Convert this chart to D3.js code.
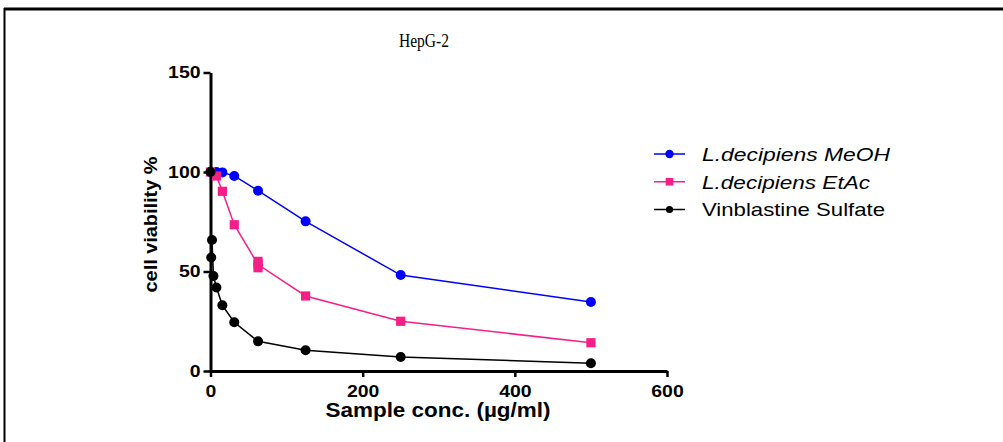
<!DOCTYPE html>
<html>
<head>
<meta charset="utf-8">
<script src="https://cdn.jsdelivr.net/npm/d3@7"></script>
<style>
  html, body { margin: 0; padding: 0; background: #fff; }
  svg { display: block; }
</style>
</head>
<body>
<svg id="chart" width="1003" height="442"></svg>
<script>
// ── data ──
const meohConc = [0, 7.8, 15.6, 31.25, 62.5, 125, 250, 500];
const meohVal  = [100, 100, 99.8, 98, 90.6, 75.2, 48.2, 34.7];

const etacConc = [0, 7.8, 15.6, 31.25, 62.5, 125, 250, 500];
const etacVal  = [100, 98, 90.3, 73.5, 53.5, 37.7, 25, 14.2];
const etacErr  = [0, 0, 0, 0, 1.6, 0, 0, 0];

const vinConc = [0, 0.98, 1.95, 3.9, 7.8, 15.6, 31.25, 62.5, 125, 250, 500];
const vinVal  = [100, 57, 65.8, 47.7, 42, 33, 24.5, 14.9, 10.4, 7, 3.9];

const xTicks = [0, 200, 400, 600];
const yTicks = [0, 50, 100, 150];

const seriesNames = ["L.decipiens MeOH", "L.decipiens EtAc", "Vinblastine Sulfate"];

const BLUE = "#0000ff", PINK = "#f81e87", BLACK = "#000";
const FONT = "'Liberation Sans', Arial, sans-serif";

const svg = d3.select("#chart");

// frame (top + left rule of the original figure box)
svg.append("line").attr("x1", 4).attr("x2", 1003).attr("y1", 9).attr("y2", 9)
    .attr("stroke", "#000").attr("stroke-width", 3);
svg.append("line").attr("x1", 4.5).attr("x2", 4.5).attr("y1", 8).attr("y2", 442)
    .attr("stroke", "#000").attr("stroke-width", 2);

const x = d3.scaleLinear().domain([0, 600]).range([210.5, 667]);
const y = d3.scaleLinear().domain([0, 150]).range([371, 72.5]);

// title
svg.append("text").attr("x", 424).attr("y", 47)
    .attr("text-anchor", "middle")
    .attr("font-family", "'Liberation Serif', 'Times New Roman', serif")
    .attr("font-size", 19.5).attr("textLength", 50).attr("lengthAdjust", "spacingAndGlyphs")
    .text("HepG-2");

// ─── axes ───
const labW = s => s.length * 10.8;

const xAx = svg.append("g").attr("transform", `translate(0,${y(0)})`)
    .call(d3.axisBottom(x).tickValues(xTicks).tickSize(6).tickSizeOuter(0).tickPadding(8));
const yAx = svg.append("g").attr("transform", `translate(${x(0)},0)`)
    .call(d3.axisLeft(y).tickValues(yTicks).tickSize(7).tickSizeOuter(0).tickPadding(3));

[xAx, yAx].forEach(ax => {
    ax.select(".domain").attr("stroke", "#000").attr("stroke-width", 3);
    ax.selectAll(".tick line").attr("stroke", "#000").attr("stroke-width", 2.5);
    ax.selectAll(".tick text")
        .attr("fill", "#000").attr("font-family", FONT)
        .attr("font-size", 16.5).attr("font-weight", "bold")
        .attr("lengthAdjust", "spacingAndGlyphs")
        .attr("textLength", function () { return labW(this.textContent); });
});
xAx.selectAll(".tick text").attr("dy", "0.71em");

// axis titles
svg.append("text").attr("x", 438).attr("y", 417)
    .attr("text-anchor", "middle").attr("font-family", FONT)
    .attr("font-size", 20).attr("font-weight", "bold")
    .attr("textLength", 225).attr("lengthAdjust", "spacingAndGlyphs")
    .text("Sample conc. (\u00b5g/ml)");

svg.append("text")
    .attr("transform", "translate(157,224.5) rotate(-90)")
    .attr("text-anchor", "middle").attr("font-family", FONT)
    .attr("font-size", 18).attr("font-weight", "bold")
    .attr("textLength", 136).attr("lengthAdjust", "spacingAndGlyphs")
    .text("cell viability %");

// ─── series ───
const line = d3.line().x(d => x(d[0])).y(d => y(d[1]));

function drawSeries(conc, vals, color, shape) {
    const pts = conc.map((c, i) => [c, vals[i]]);
    svg.append("path").datum(pts).attr("d", line)
        .attr("fill", "none").attr("stroke", color).attr("stroke-width", 1.5);
    const g = svg.append("g");
    pts.forEach(p => {
        if (shape === "square") {
            g.append("rect").attr("x", x(p[0]) - 4.6).attr("y", y(p[1]) - 4.6)
                .attr("width", 9.2).attr("height", 9.2).attr("fill", color);
        } else {
            g.append("circle").attr("cx", x(p[0])).attr("cy", y(p[1])).attr("r", 5)
                .attr("fill", color);
        }
    });
    return g;
}

drawSeries(meohConc, meohVal, BLUE, "circle");
const etacG = drawSeries(etacConc, etacVal, PINK, "square");
// spread of the replicate at 62.5 µg/ml
etacConc.forEach((c, i) => {
    if (!etacErr[i]) return;
    [-1, 1].forEach(s => {
        etacG.append("rect").attr("x", x(c) - 4.6).attr("y", y(etacVal[i] + s * etacErr[i]) - 4.6)
            .attr("width", 9.2).attr("height", 9.2).attr("fill", PINK);
    });
});
drawSeries(vinConc, vinVal, BLACK, "circle");

// ─── legend ───
const legColors = [BLUE, PINK, BLACK];
const legWidths = [188, 168, 183];
const legY = d3.scaleLinear().domain([0, 2]).range([154, 209.5]);

seriesNames.forEach((name, i) => {
    const cy = legY(i);
    svg.append("line").attr("x1", 654).attr("x2", 685).attr("y1", cy).attr("y2", cy)
        .attr("stroke", legColors[i]).attr("stroke-width", 1.5);
    if (i === 1) {
        svg.append("rect").attr("x", 669.5 - 3.8).attr("y", cy - 3.8)
            .attr("width", 7.6).attr("height", 7.6).attr("fill", legColors[i]);
    } else {
        svg.append("circle").attr("cx", 669.5).attr("cy", cy).attr("r", i === 0 ? 4.2 : 3.6)
            .attr("fill", legColors[i]);
    }
    svg.append("text").attr("x", 702).attr("y", cy + 6.8)
        .attr("font-family", FONT).attr("font-size", 18.5)
        .attr("font-style", i < 2 ? "italic" : "normal")
        .attr("textLength", legWidths[i]).attr("lengthAdjust", "spacingAndGlyphs")
        .text(name);
});
</script>
</body>
</html>
